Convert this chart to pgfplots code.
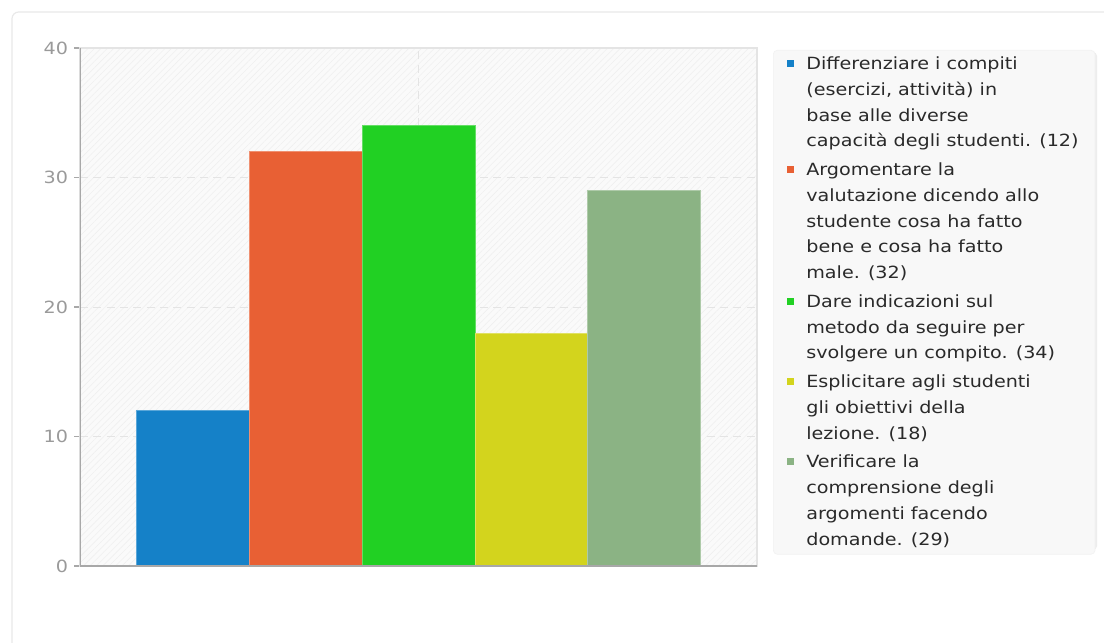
\documentclass[border=0pt]{standalone}
\usepackage{pgfplots}
\pgfplotsset{compat=1.18}
\usepackage{fontspec}
\setmainfont{DejaVu Sans}[FakeStretch=1.14]
\usetikzlibrary{patterns.meta}
\definecolor{cA}{HTML}{1581C8}
\definecolor{cB}{HTML}{E86034}
\definecolor{cC}{HTML}{21D023}
\definecolor{cD}{HTML}{D3D41D}
\definecolor{cE}{HTML}{8BB384}
\definecolor{axgray}{HTML}{A8A8A8}
\definecolor{ticklab}{HTML}{9A9A9A}
\definecolor{gridc}{HTML}{E4E4E4}
\definecolor{framec}{HTML}{E4E4E4}
\definecolor{txt}{HTML}{2A2A2A}
\definecolor{legbg}{HTML}{F8F8F8}
\definecolor{cardc}{HTML}{E9E9E9}
\newcommand{\sq}[1]{\raisebox{2.1pt}{\textcolor{#1}{\rule{5.25pt}{5.25pt}}}}
\newcommand{\ent}[1]{\parbox[t]{206pt}{\strut #1\rule[-8.1pt]{0pt}{8.1pt}}}
\newcommand{\entl}[1]{\parbox[t]{206pt}{\strut #1\strut}}
\begin{document}
\begin{tikzpicture}[x=0.75pt,y=0.75pt]
\useasboundingbox (0,0) rectangle (1104,643);
\fill[white] (0,0) rectangle (1104,643);
\begin{scope}
\clip (0,0) rectangle (1104,643);
\draw[cardc, line width=0.9pt, rounded corners=5pt] (12,-30) rectangle (1130,631);
\end{scope}
\begin{axis}[
  at={(60pt,57.75pt)}, anchor=south west,
  scale only axis, width=507.75pt, height=388.5pt,
  xmin=-1, xmax=5, ymin=0, ymax=40,
  ytick={0,10,20,30,40},
  xtick={2}, xticklabels={},
  ytick pos=left,
  xmajorgrids, ymajorgrids,
  grid style={dash pattern=on 6pt off 4pt, color=gridc, line width=0.7pt},
  axis line style={framec, line width=1pt},
  major tick length=4.5pt,
  ytick align=outside,
  ytick style={axgray, line width=0.9pt},
  xtick style={draw=none},
  tick label style={font=\fontsize{12.6}{15}\selectfont, text=ticklab},
  /pgf/number format/assume math mode=true,
  yticklabel style={xshift=-1pt},
  axis background/.style={fill=black!2, postaction={pattern={Lines[angle=45,distance=3.4pt,line width=0.45pt]}, pattern color=black!6}},
]
\addplot[ybar, bar width=1, bar shift=0, fill=cA, draw=cA!70!white, line width=0.6pt] coordinates {(0,12)};
\addplot[ybar, bar width=1, bar shift=0, fill=cB, draw=cB!70!white, line width=0.6pt] coordinates {(1,32)};
\addplot[ybar, bar width=1, bar shift=0, fill=cC, draw=cC!70!white, line width=0.6pt] coordinates {(2,34)};
\addplot[ybar, bar width=1, bar shift=0, fill=cD, draw=cD!70!white, line width=0.6pt] coordinates {(3,18)};
\addplot[ybar, bar width=1, bar shift=0, fill=cE, draw=cE!70!white, line width=0.6pt] coordinates {(4,29)};
\draw[axgray, line width=1pt] (rel axis cs:0,0) -- (rel axis cs:0,1);
\draw[axgray, line width=1.3pt] (rel axis cs:0,0) -- (rel axis cs:1,0);
\end{axis}
\fill[black!7, rounded corners=3pt] (775,93) rectangle (1097,591);
\node[anchor=north west, fill=legbg, draw=black!5, line width=0.5pt, rounded corners=3pt,
      inner xsep=10.5pt, inner ysep=1pt, text=txt,
      font=\fontsize{12.6}{19.3}\selectfont] at (773,593) {%
\renewcommand{\arraystretch}{1}%
\begin{tabular}{@{}l@{\hspace{9pt}}l@{}}
\sq{cA} & \ent{Differenziare i compiti\\(esercizi, attività) in\\base alle diverse\\capacità degli studenti. (12)}\\
\sq{cB} & \ent{Argomentare la\\valutazione dicendo allo\\studente cosa ha fatto\\bene e cosa ha fatto\\male. (32)}\\
\sq{cC} & \ent{Dare indicazioni sul\\metodo da seguire per\\svolgere un compito. (34)}\\
\sq{cD} & \ent{Esplicitare agli studenti\\gli obiettivi della\\lezione. (18)}\\
\sq{cE} & \entl{Verificare la\\comprensione degli\\argomenti facendo\\domande. (29)}
\end{tabular}};
\end{tikzpicture}
\end{document}
